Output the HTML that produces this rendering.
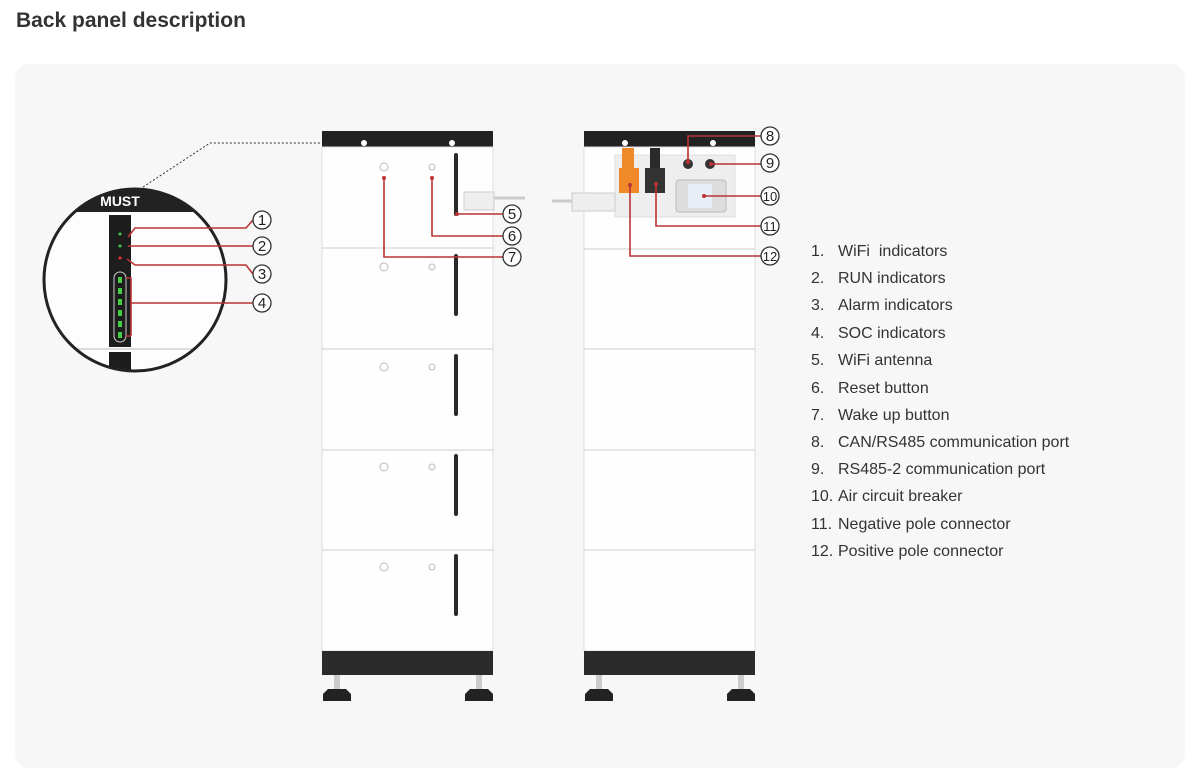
<!DOCTYPE html>
<html><head><meta charset="utf-8"><style>
body{margin:0;width:1200px;height:779px;background:#fff;font-family:"Liberation Sans",sans-serif;overflow:hidden;position:relative}
.t{position:absolute;left:16px;top:9px;font-size:21px;font-weight:bold;color:#333}
.panel{position:absolute;left:15px;top:64px;width:1170px;height:704px;background:#f7f7f7;border-radius:14px}
svg{position:absolute;left:0;top:0}
.li{position:absolute;left:811px;font-size:16px;color:#333;white-space:pre}
.li span{position:absolute;left:27px}
</style></head><body>
<div class="t">Back panel description</div>
<div class="panel"></div>
<svg width="1200" height="779" viewBox="0 0 1200 779">
<defs><clipPath id="cc"><circle cx="135" cy="280" r="91"/></clipPath></defs>
<!-- left device -->
<g>
<rect x="322" y="131" width="171" height="16" fill="#222"/>
<circle cx="364" cy="143" r="3" fill="#fff"/><circle cx="452" cy="143" r="3" fill="#fff"/>
<rect x="322" y="147" width="171" height="504" fill="#fefefe" stroke="#ddd"/>
<line x1="322" y1="248" x2="493" y2="248" stroke="#ccc"/>
<line x1="322" y1="349" x2="493" y2="349" stroke="#ccc"/>
<line x1="322" y1="450" x2="493" y2="450" stroke="#ccc"/>
<line x1="322" y1="550" x2="493" y2="550" stroke="#ccc"/>
<g fill="none" stroke="#bbb">
<circle cx="384" cy="167" r="4"/><circle cx="432" cy="167" r="3"/>
<circle cx="384" cy="267" r="4"/><circle cx="432" cy="267" r="3"/>
<circle cx="384" cy="367" r="4"/><circle cx="432" cy="367" r="3"/>
<circle cx="384" cy="467" r="4"/><circle cx="432" cy="467" r="3"/>
<circle cx="384" cy="567" r="4"/><circle cx="432" cy="567" r="3"/>
</g>
<g stroke="#2a2a2a" stroke-width="4" stroke-linecap="round">
<line x1="456" y1="155" x2="456" y2="214"/><line x1="456" y1="256" x2="456" y2="314"/>
<line x1="456" y1="356" x2="456" y2="414"/><line x1="456" y1="456" x2="456" y2="514"/>
<line x1="456" y1="556" x2="456" y2="614"/>
</g>
<rect x="464" y="192" width="30" height="18" fill="#eee" stroke="#ccc"/>
<line x1="494" y1="198" x2="525" y2="198" stroke="#ccc" stroke-width="3"/>
<rect x="322" y="651" width="171" height="24" fill="#2b2b2b"/>
<rect x="334" y="675" width="6" height="15" fill="#ccc"/><rect x="476" y="675" width="6" height="15" fill="#ccc"/>
<path d="M323 701 L323 694 L328 689 L346 689 L351 694 L351 701Z" fill="#222"/>
<path d="M465 701 L465 694 L470 689 L488 689 L493 694 L493 701Z" fill="#222"/>
</g>
<!-- right device -->
<g>
<rect x="584" y="131" width="171" height="16" fill="#222"/>
<circle cx="625" cy="143" r="3" fill="#fff"/><circle cx="713" cy="143" r="3" fill="#fff"/>
<rect x="584" y="147" width="171" height="504" fill="#fefefe" stroke="#ddd"/>
<line x1="584" y1="249" x2="755" y2="249" stroke="#ccc"/>
<line x1="584" y1="349" x2="755" y2="349" stroke="#ccc"/>
<line x1="584" y1="450" x2="755" y2="450" stroke="#ccc"/>
<line x1="584" y1="550" x2="755" y2="550" stroke="#ccc"/>
<rect x="615" y="155" width="120" height="62" fill="#eee" stroke="#ddd"/>
<rect x="622" y="148" width="12" height="20" fill="#f0892a"/>
<rect x="619" y="168" width="20" height="25" fill="#f0892a"/>
<rect x="650" y="148" width="10" height="20" fill="#2a2a2a"/>
<rect x="645" y="168" width="20" height="25" fill="#333"/>
<circle cx="688" cy="164" r="5" fill="#333"/><circle cx="710" cy="164" r="5" fill="#333"/>
<rect x="676" y="180" width="50" height="32" rx="3" fill="#ddd" stroke="#bbb"/>
<rect x="688" y="184" width="24" height="24" fill="#e8eef5"/>
<rect x="572" y="193" width="43" height="18" fill="#eee" stroke="#ccc"/>
<line x1="552" y1="201" x2="572" y2="201" stroke="#ccc" stroke-width="3"/>
<rect x="584" y="651" width="171" height="24" fill="#2b2b2b"/>
<rect x="596" y="675" width="6" height="15" fill="#ccc"/><rect x="738" y="675" width="6" height="15" fill="#ccc"/>
<path d="M585 701 L585 694 L590 689 L608 689 L613 694 L613 701Z" fill="#222"/>
<path d="M727 701 L727 694 L732 689 L750 689 L755 694 L755 701Z" fill="#222"/>
</g>
<!-- zoom circle -->
<polyline points="143,187 210,143 322,143" fill="none" stroke="#333" stroke-dasharray="2,2"/>
<g clip-path="url(#cc)">
<rect x="40" y="180" width="200" height="200" fill="#fdfdfd"/>
<rect x="40" y="180" width="200" height="32" fill="#222"/>
<text x="120" y="206" font-size="14" font-weight="bold" fill="#fff" text-anchor="middle" font-family="Liberation Sans">MUST</text>
<rect x="109" y="215" width="22" height="132" fill="#1d1d1d"/>
<rect x="109" y="352" width="22" height="30" fill="#1d1d1d"/>
<line x1="40" y1="349" x2="240" y2="349" stroke="#bbb"/>
<rect x="114" y="272" width="12" height="70" rx="6" fill="none" stroke="#ccc"/>
<g fill="#4c4"><rect x="118" y="277" width="4" height="6"/><rect x="118" y="288" width="4" height="6"/><rect x="118" y="299" width="4" height="6"/><rect x="118" y="310" width="4" height="6"/><rect x="118" y="321" width="4" height="6"/><rect x="118" y="332" width="4" height="6"/></g>
<circle cx="120" cy="234" r="1.5" fill="#4c4"/><circle cx="120" cy="246" r="1.5" fill="#4c4"/><circle cx="120" cy="258" r="1.5" fill="#e33"/>
</g>
<circle cx="135" cy="280" r="91" fill="none" stroke="#222" stroke-width="3"/>
<!-- leaders -->
<g fill="none" stroke="#b33" stroke-width="1.6">
<polyline points="128,237 135,228 246,228 253,220"/>
<line x1="128" y1="246" x2="253" y2="246"/>
<polyline points="127,259 135,265 246,265 253,274"/>
<polyline points="126,278 131,278 131,303 253,303"/><line x1="126" y1="336" x2="131" y2="336"/><line x1="131" y1="303" x2="131" y2="336"/>
<line x1="457" y1="214" x2="503" y2="214"/>
<polyline points="432,178 432,236 503,236"/>
<polyline points="384,178 384,257 503,257"/>
<polyline points="688,162 688,136 761,136"/>
<line x1="711" y1="164" x2="761" y2="164"/>
<line x1="704" y1="196" x2="761" y2="196"/>
<polyline points="656,184 656,226 761,226"/>
<polyline points="630,185 630,256 761,256"/>
</g>
<g fill="#b33"><circle cx="457" cy="214" r="2"/><circle cx="432" cy="178" r="2"/><circle cx="384" cy="178" r="2"/><circle cx="688" cy="162" r="2"/><circle cx="711" cy="164" r="2"/><circle cx="704" cy="196" r="2"/><circle cx="656" cy="184" r="2"/><circle cx="630" cy="185" r="2"/></g>
<g fill="#fff" stroke="#333" stroke-width="1.3">
<circle cx="262" cy="220" r="9"/><circle cx="262" cy="246" r="9"/><circle cx="262" cy="274" r="9"/><circle cx="262" cy="303" r="9"/>
<circle cx="512" cy="214" r="9"/><circle cx="512" cy="236" r="9"/><circle cx="512" cy="257" r="9"/>
<circle cx="770" cy="136" r="9"/><circle cx="770" cy="163" r="9"/><circle cx="770" cy="196" r="9"/><circle cx="770" cy="226" r="9"/><circle cx="770" cy="256" r="9"/>
</g>
<g font-size="15" fill="#222" text-anchor="middle" font-family="Liberation Sans">
<text x="262" y="225">1</text><text x="262" y="251">2</text><text x="262" y="279">3</text><text x="262" y="308">4</text>
<text x="512" y="219">5</text><text x="512" y="241">6</text><text x="512" y="262">7</text>
<text x="770" y="141">8</text><text x="770" y="168">9</text><text x="770" y="201" font-size="13">10</text><text x="770" y="231" font-size="13">11</text><text x="770" y="261" font-size="13">12</text>
</g>
</svg>
<div class="li" style="top:243px">1.<span>WiFi  indicators</span></div>
<div class="li" style="top:270px">2.<span>RUN indicators</span></div>
<div class="li" style="top:297px">3.<span>Alarm indicators</span></div>
<div class="li" style="top:325px">4.<span>SOC indicators</span></div>
<div class="li" style="top:352px">5.<span>WiFi antenna</span></div>
<div class="li" style="top:380px">6.<span>Reset button</span></div>
<div class="li" style="top:407px">7.<span>Wake up button</span></div>
<div class="li" style="top:434px">8.<span>CAN/RS485 communication port</span></div>
<div class="li" style="top:461px">9.<span>RS485-2 communication port</span></div>
<div class="li" style="top:488px">10.<span>Air circuit breaker</span></div>
<div class="li" style="top:516px">11.<span>Negative pole connector</span></div>
<div class="li" style="top:543px">12.<span>Positive pole connector</span></div>
</body></html>
